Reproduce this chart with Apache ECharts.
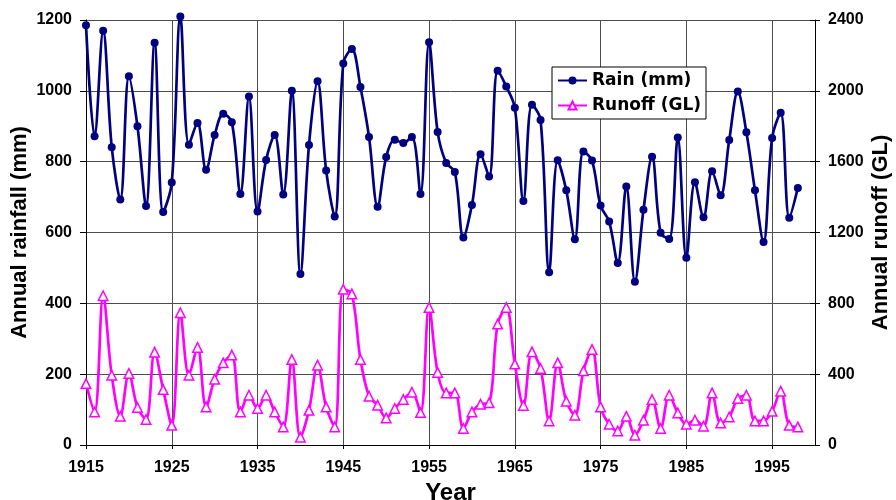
<!DOCTYPE html>
<html>
<head>
<meta charset="utf-8">
<script src="https://cdn.jsdelivr.net/npm/echarts@6/dist/echarts.min.js"></script>
<style>
html,body{margin:0;padding:0;background:#fff;}
#chart{width:896px;height:500px;}
</style>
</head>
<body>
<div id="chart"></div>
<script>
// Categories: years on the x axis (1915 - 2000)
var years = ['1915','1916','1917','1918','1919','1920','1921','1922','1923','1924',
  '1925','1926','1927','1928','1929','1930','1931','1932','1933','1934',
  '1935','1936','1937','1938','1939','1940','1941','1942','1943','1944',
  '1945','1946','1947','1948','1949','1950','1951','1952','1953','1954',
  '1955','1956','1957','1958','1959','1960','1961','1962','1963','1964',
  '1965','1966','1967','1968','1969','1970','1971','1972','1973','1974',
  '1975','1976','1977','1978','1979','1980','1981','1982','1983','1984',
  '1985','1986','1987','1988','1989','1990','1991','1992','1993','1994',
  '1995','1996','1997','1998','1999','2000'];

// Annual rainfall (mm), 1915 - 1998
var rain = [1185, 872, 1170, 841, 693, 1041, 900, 675, 1136, 658,
  741, 1210, 848, 909, 777, 875, 935, 911, 709, 984,
  659, 805, 875, 707, 1000, 483, 847, 1027, 775, 645,
  1077, 1118, 1011, 870, 673, 813, 862, 853, 870, 709,
  1137, 884, 796, 771, 586, 678, 821, 758, 1057, 1012,
  952, 689, 961, 918, 488, 804, 719, 581, 829, 803,
  676, 631, 514, 730, 461, 664, 814, 599, 582, 868,
  529, 742, 643, 773, 705, 861, 998, 883, 719, 573,
  867, 938, 642, 726];

// Annual runoff (GL), 1915 - 1998
var runoff = [347, 187, 843, 394, 162, 404, 212, 144, 524, 313,
  111, 747, 394, 551, 215, 372, 464, 508, 187, 281,
  206, 281, 187, 102, 483, 44, 196, 451, 215, 102,
  879, 853, 483, 276, 225, 153, 206, 257, 298, 183,
  777, 410, 294, 294, 93, 187, 230, 238, 683, 777,
  457, 223, 526, 432, 136, 464, 247, 168, 419, 540,
  215, 117, 79, 162, 55, 140, 257, 93, 281, 181,
  117, 140, 106, 294, 124, 158, 262, 281, 136, 136,
  190, 304, 111, 102];

var seriesNames = ['Rain (mm)', 'Runoff (GL)'];
var axisNames = ['Year', 'Annual rainfall (mm)', 'Annual runoff (GL)'];

var F = "'Liberation Sans', Arial, sans-serif";
function plain(v) { return String(v); }
var chart = echarts.init(document.getElementById('chart'));
chart.setOption({
  animation: false,
  backgroundColor: '#fff',
  grid: {left: 86, right: 81, top: 20, bottom: 55, containLabel: false, outerBoundsMode: 'none'},
  legend: {
    orient: 'vertical', left: 552, top: 67,
    padding: [5, 5, 5, 5], itemGap: 8, itemWidth: 29, itemHeight: 10,
    backgroundColor: '#fff', borderColor: '#000', borderWidth: 1,
    textStyle: {fontFamily: "'DejaVu Sans', sans-serif", fontWeight: 'bold', fontSize: 17, color: '#000'},
    data: seriesNames
  },
  xAxis: {
    type: 'category', data: years, boundaryGap: false,
    name: axisNames[0], nameLocation: 'middle', nameGap: 36, nameMoveOverlap: false,
    nameTextStyle: {fontFamily: F, fontWeight: 'bold', fontSize: 24, color: '#000'},
    axisLine: {show: true, lineStyle: {color: '#000', width: 1}},
    axisTick: {show: true, interval: 9, length: 4, lineStyle: {color: '#000'}},
    axisLabel: {interval: 9, margin: 15, fontFamily: F, fontWeight: 'bold', fontSize: 16, color: '#000'},
    splitLine: {show: true, interval: 9, lineStyle: {color: '#4d4d4d', width: 1}}
  },
  yAxis: [{
    type: 'value', min: 0, max: 1200, interval: 200, position: 'left',
    name: axisNames[1], nameLocation: 'middle', nameGap: 55, nameMoveOverlap: false,
    nameTextStyle: {fontFamily: F, fontWeight: 'bold', fontSize: 22, color: '#000'},
    axisLine: {show: true, lineStyle: {color: '#000', width: 1}},
    axisTick: {show: true, length: 6, lineStyle: {color: '#000'}},
    axisLabel: {margin: 14, formatter: plain, fontFamily: F, fontWeight: 'bold', fontSize: 16, color: '#000'},
    splitLine: {show: true, lineStyle: {color: '#4d4d4d', width: 1}}
  }, {
    type: 'value', min: 0, max: 2400, interval: 400, position: 'right',
    name: axisNames[2], nameLocation: 'middle', nameGap: 55, nameMoveOverlap: false,
    nameTextStyle: {fontFamily: F, fontWeight: 'bold', fontSize: 22, color: '#000'},
    axisLine: {show: true, lineStyle: {color: '#000', width: 1}},
    axisTick: {show: true, length: 5, lineStyle: {color: '#000'}},
    axisLabel: {margin: 13, formatter: plain, fontFamily: F, fontWeight: 'bold', fontSize: 16, color: '#000'},
    splitLine: {show: false}
  }, {
    type: 'value', min: 0, max: 2400, interval: 400, position: 'right',
    axisLine: {show: false},
    axisTick: {show: true, inside: true, length: 5, lineStyle: {color: '#000'}},
    axisLabel: {show: false},
    splitLine: {show: false}
  }],
  series: [{
    name: seriesNames[0], type: 'line', yAxisIndex: 0, data: rain,
    smooth: 0.35, clip: false, showAllSymbol: true,
    symbol: 'circle', symbolSize: 8,
    lineStyle: {color: '#000080', width: 2.7},
    itemStyle: {color: '#000080'}
  }, {
    name: seriesNames[1], type: 'line', yAxisIndex: 1, data: runoff,
    smooth: 0.35, showAllSymbol: true,
    symbol: 'triangle', symbolSize: 9.5,
    lineStyle: {color: '#ff00ff', width: 2.7},
    itemStyle: {color: '#ffffff', borderColor: '#ff00ff', borderWidth: 1.5}
  }]
});
</script>
</body>
</html>
